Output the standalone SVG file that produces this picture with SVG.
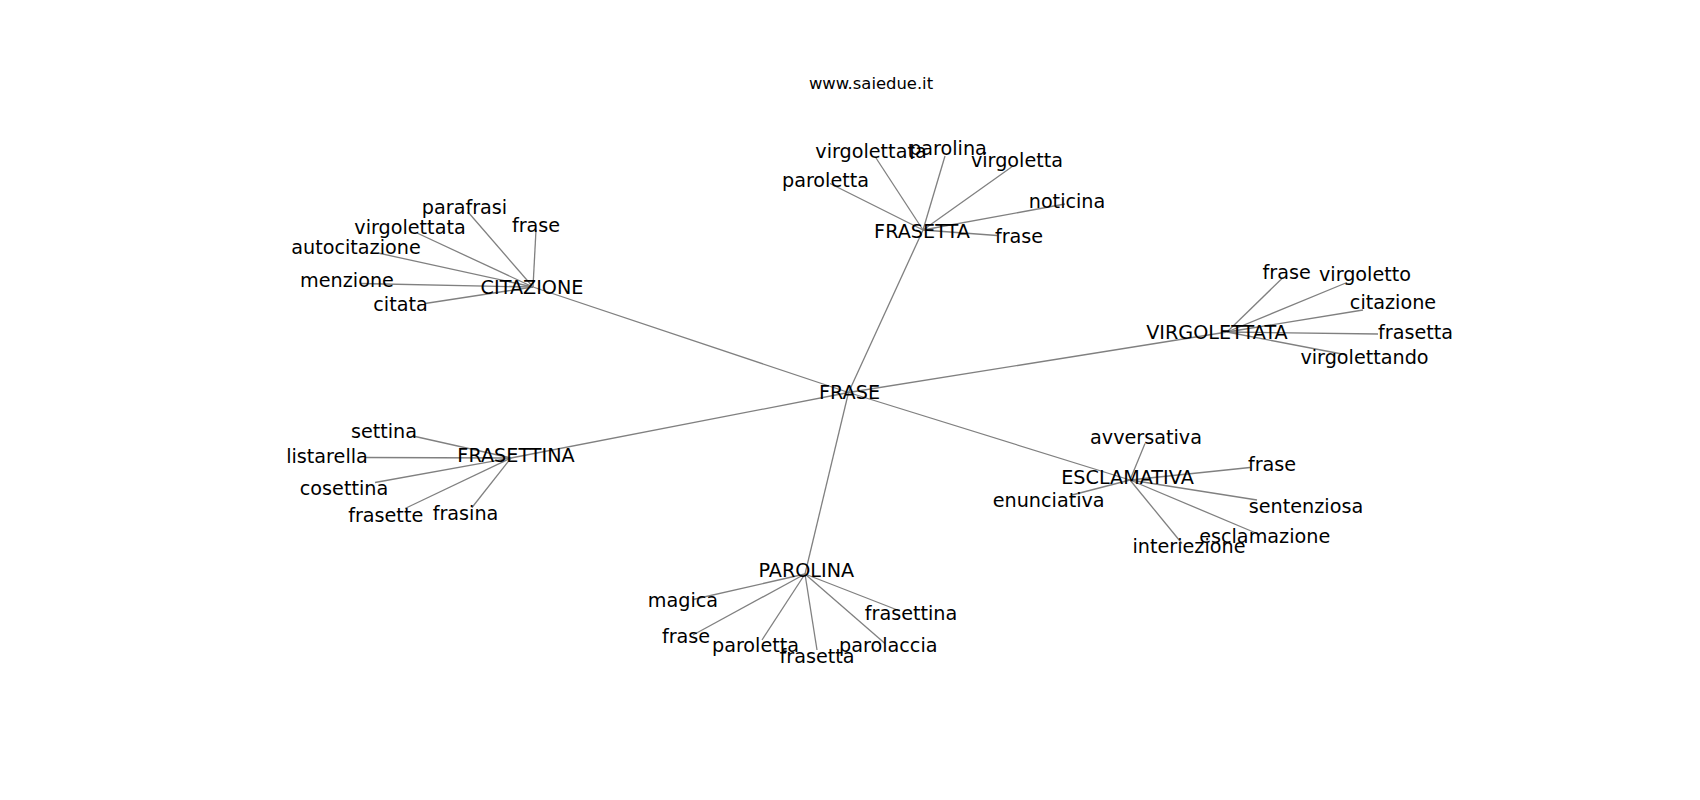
<svg xmlns="http://www.w3.org/2000/svg" width="1700" height="800" viewBox="0 0 1700 800">
<style>
text{font-family:"DejaVu Sans",sans-serif;font-size:19.2px;fill:#000;text-anchor:middle}
.title{font-size:16.4px}
.e line{stroke:#808080;stroke-width:1.3}
</style>
<rect width="1700" height="800" fill="#fff"/>
<text class="title" x="871" y="88.5">www.saiedue.it</text>
<g class="e" id="connectors">
<line x1="848.5" y1="392.5" x2="533" y2="287"/>
<line x1="848.5" y1="392.5" x2="923" y2="230"/>
<line x1="848.5" y1="392.5" x2="1227" y2="332"/>
<line x1="848.5" y1="392.5" x2="511" y2="458"/>
<line x1="848.5" y1="392.5" x2="1130" y2="480"/>
<line x1="848.5" y1="392.5" x2="805" y2="574"/>
<line x1="533" y1="287" x2="468" y2="212"/>
<line x1="533" y1="287" x2="536" y2="230"/>
<line x1="533" y1="287" x2="417" y2="233"/>
<line x1="533" y1="287" x2="378" y2="253"/>
<line x1="533" y1="287" x2="360" y2="283.5"/>
<line x1="533" y1="287" x2="425" y2="303.5"/>
<line x1="923" y1="230" x2="876" y2="158"/>
<line x1="923" y1="230" x2="945" y2="156"/>
<line x1="923" y1="230" x2="1013" y2="166"/>
<line x1="923" y1="230" x2="830" y2="183.5"/>
<line x1="923" y1="230" x2="1065" y2="204"/>
<line x1="923" y1="230" x2="997" y2="235.5"/>
<line x1="1227" y1="332" x2="1282" y2="278.5"/>
<line x1="1227" y1="332" x2="1347" y2="282.5"/>
<line x1="1227" y1="332" x2="1363" y2="310"/>
<line x1="1227" y1="332" x2="1378" y2="334"/>
<line x1="1227" y1="332" x2="1347" y2="355"/>
<line x1="511" y1="458" x2="413" y2="436"/>
<line x1="511" y1="458" x2="365" y2="457.5"/>
<line x1="511" y1="458" x2="375" y2="482.5"/>
<line x1="511" y1="458" x2="405" y2="508.5"/>
<line x1="511" y1="458" x2="472" y2="507.5"/>
<line x1="1130" y1="480" x2="1145" y2="443.5"/>
<line x1="1130" y1="480" x2="1250" y2="467.5"/>
<line x1="1130" y1="480" x2="1072" y2="495"/>
<line x1="1130" y1="480" x2="1257" y2="500"/>
<line x1="1130" y1="480" x2="1257" y2="533.5"/>
<line x1="1130" y1="480" x2="1182" y2="543.5"/>
<line x1="805" y1="574" x2="693" y2="599.5"/>
<line x1="805" y1="574" x2="693" y2="635"/>
<line x1="805" y1="574" x2="762" y2="640"/>
<line x1="805" y1="574" x2="817" y2="650"/>
<line x1="805" y1="574" x2="885" y2="643.5"/>
<line x1="805" y1="574" x2="900" y2="611"/>
</g>
<g id="FRASE"><text x="849.5" y="399.3">FRASE</text></g>
<g id="CITAZIONE"><text x="532" y="294">CITAZIONE</text></g>
<g id="citazione-parafrasi"><text x="464.5" y="214">parafrasi</text></g>
<g id="citazione-frase"><text x="536" y="232.3">frase</text></g>
<g id="citazione-virgolettata"><text x="410" y="234">virgolettata</text></g>
<g id="citazione-autocitazione"><text x="356" y="254">autocitazione</text></g>
<g id="citazione-menzione"><text x="347" y="287.3">menzione</text></g>
<g id="citazione-citata"><text x="400.5" y="310.7">citata</text></g>
<g id="FRASETTA"><text x="922" y="237.7">FRASETTA</text></g>
<g id="frasetta-virgolettata"><text x="871" y="157.7">virgolettata</text></g>
<g id="frasetta-parolina"><text x="948" y="155">parolina</text></g>
<g id="frasetta-virgoletta"><text x="1017" y="166.7">virgoletta</text></g>
<g id="frasetta-paroletta"><text x="825.5" y="186.7">paroletta</text></g>
<g id="frasetta-noticina"><text x="1067" y="207.7">noticina</text></g>
<g id="frasetta-frase"><text x="1019" y="242.7">frase</text></g>
<g id="VIRGOLETTATA"><text x="1217" y="339">VIRGOLETTATA</text></g>
<g id="virgolettata-frase"><text x="1286.7" y="279">frase</text></g>
<g id="virgolettata-virgoletto"><text x="1365" y="280.7">virgoletto</text></g>
<g id="virgolettata-citazione"><text x="1393" y="309.3">citazione</text></g>
<g id="virgolettata-frasetta"><text x="1415.5" y="339.3">frasetta</text></g>
<g id="virgolettata-virgolettando"><text x="1364.5" y="364">virgolettando</text></g>
<g id="FRASETTINA"><text x="516" y="462">FRASETTINA</text></g>
<g id="frasettina-settina"><text x="384" y="438.3">settina</text></g>
<g id="frasettina-listarella"><text x="327" y="462.7">listarella</text></g>
<g id="frasettina-cosettina"><text x="344" y="495">cosettina</text></g>
<g id="frasettina-frasette"><text x="385.7" y="521.7">frasette</text></g>
<g id="frasettina-frasina"><text x="465.5" y="520">frasina</text></g>
<g id="ESCLAMATIVA"><text x="1127.5" y="484.3">ESCLAMATIVA</text></g>
<g id="esclamativa-avversativa"><text x="1146" y="444">avversativa</text></g>
<g id="esclamativa-frase"><text x="1272" y="470.7">frase</text></g>
<g id="esclamativa-enunciativa"><text x="1048.7" y="507.3">enunciativa</text></g>
<g id="esclamativa-sentenziosa"><text x="1306" y="512.7">sentenziosa</text></g>
<g id="esclamativa-esclamazione"><text x="1264.7" y="542.7">esclamazione</text></g>
<g id="esclamativa-interiezione"><text x="1189" y="553.3">interiezione</text></g>
<g id="PAROLINA"><text x="806.3" y="576.7">PAROLINA</text></g>
<g id="parolina-magica"><text x="683" y="607.3">magica</text></g>
<g id="parolina-frase"><text x="686" y="642.7">frase</text></g>
<g id="parolina-paroletta"><text x="755.5" y="651.7">paroletta</text></g>
<g id="parolina-frasetta"><text x="817" y="662.7">frasetta</text></g>
<g id="parolina-parolaccia"><text x="888.3" y="651.7">parolaccia</text></g>
<g id="parolina-frasettina"><text x="911" y="620">frasettina</text></g>
</svg>
